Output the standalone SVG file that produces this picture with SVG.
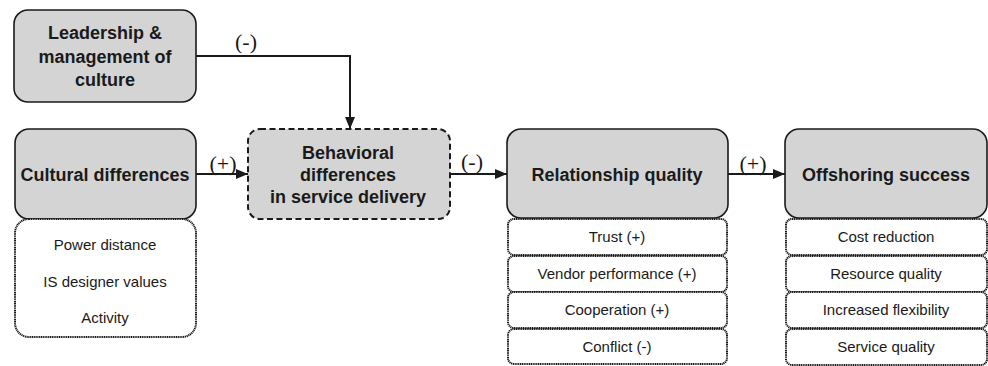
<svg xmlns="http://www.w3.org/2000/svg" width="988" height="366" viewBox="0 0 988 366">
<style>
.main{fill:#d4d4d4;stroke:#1a1a1a;stroke-width:1.6}
.dash{fill:#d4d4d4;stroke:#1a1a1a;stroke-width:2;stroke-dasharray:6 3.5}
.sub{fill:#ffffff;stroke:#1a1a1a;stroke-width:2;stroke-dasharray:1.2 0.6}
.t{font-family:"Liberation Sans",Arial,sans-serif;font-weight:bold;font-size:18px;fill:#1a1a1a;text-anchor:middle}
.s{font-family:"Liberation Sans",Arial,sans-serif;font-size:15px;fill:#1a1a1a;text-anchor:middle}
.l{font-family:"Liberation Serif","Times New Roman",serif;font-size:22px;fill:#1a1a1a;text-anchor:middle}
.c{fill:none;stroke:#1a1a1a;stroke-width:2}
</style>
<defs>
<marker id="ah" markerWidth="12" markerHeight="10" refX="12" refY="5" orient="auto" markerUnits="userSpaceOnUse">
<path d="M0,0 L12,5 L0,10 Z" fill="#1a1a1a"/>
</marker>
</defs>
<g id="connectors">
<path class="c" d="M196,56 H350 V129" marker-end="url(#ah)"/>
<text class="l" x="246" y="49">(-)</text>
<path class="c" d="M196,174 H248" marker-end="url(#ah)"/>
<text class="l" x="223" y="171">(+)</text>
<path class="c" d="M450,174 H507" marker-end="url(#ah)"/>
<text class="l" x="472" y="169">(-)</text>
<path class="c" d="M728,174 H785" marker-end="url(#ah)"/>
<text class="l" x="753" y="171">(+)</text>
</g>
<g id="leadership">
<rect class="main" x="14" y="10" width="182" height="92" rx="14"/>
<text class="t" x="105" y="39">Leadership &amp;</text>
<text class="t" x="105" y="63">management of</text>
<text class="t" x="105" y="86">culture</text>
</g>
<g id="cultural">
<rect class="main" x="15" y="129" width="181" height="90" rx="14"/>
<text class="t" x="105" y="181">Cultural differences</text>
<rect class="sub" x="15" y="219" width="181" height="118" rx="14"/>
<text class="s" x="105" y="250">Power distance</text>
<text class="s" x="105" y="287">IS designer values</text>
<text class="s" x="105" y="323">Activity</text>
</g>
<g id="behavioral">
<rect class="dash" x="248" y="129" width="202" height="90" rx="12"/>
<text class="t" x="348" y="159">Behavioral</text>
<text class="t" x="348" y="181">differences</text>
<text class="t" x="348" y="203">in service delivery</text>
</g>
<g id="relationship">
<rect class="main" x="507" y="129" width="221" height="89" rx="14"/>
<text class="t" x="617" y="181">Relationship quality</text>
<rect class="sub" x="508" y="219" width="219" height="36" rx="6"/>
<text class="s" x="617" y="242">Trust (+)</text>
<rect class="sub" x="508" y="256" width="219" height="36" rx="6"/>
<text class="s" x="617" y="279">Vendor performance (+)</text>
<rect class="sub" x="508" y="292" width="219" height="36" rx="6"/>
<text class="s" x="617" y="315">Cooperation (+)</text>
<rect class="sub" x="508" y="329" width="219" height="35" rx="6"/>
<text class="s" x="617" y="352">Conflict (-)</text>
</g>
<g id="offshoring">
<rect class="main" x="785" y="129" width="202" height="89" rx="14"/>
<text class="t" x="886" y="181">Offshoring success</text>
<rect class="sub" x="786" y="219" width="201" height="36" rx="6"/>
<text class="s" x="886" y="242">Cost reduction</text>
<rect class="sub" x="786" y="256" width="201" height="36" rx="6"/>
<text class="s" x="886" y="279">Resource quality</text>
<rect class="sub" x="786" y="292" width="201" height="36" rx="6"/>
<text class="s" x="886" y="315">Increased flexibility</text>
<rect class="sub" x="786" y="329" width="201" height="36" rx="6"/>
<text class="s" x="886" y="352">Service quality</text>
</g>
</svg>
